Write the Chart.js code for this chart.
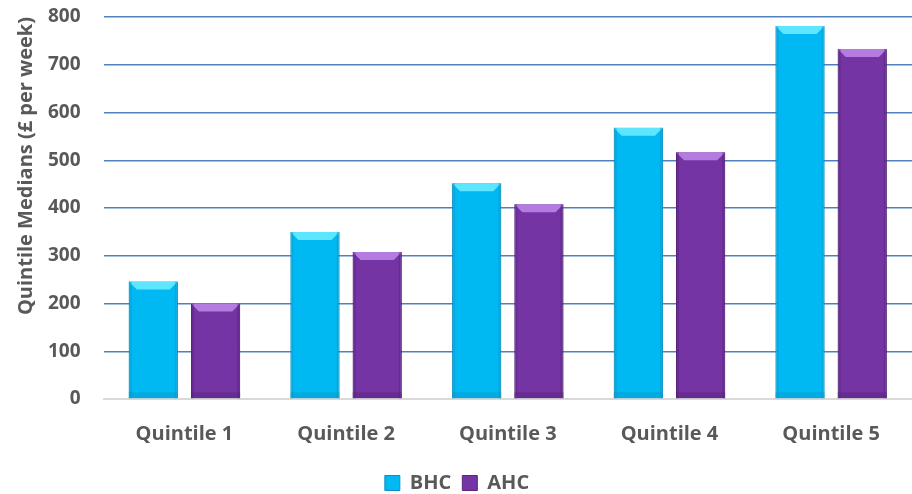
<!DOCTYPE html>
<html>
<head>
<meta charset="utf-8">
<script src="https://cdn.jsdelivr.net/npm/chart.js@4/dist/chart.umd.min.js"></script>
<style>
  html, body { margin: 0; padding: 0; background: #fff; }
  #wrap { width: 912px; height: 494px; }
</style>
</head>
<body>
<div id="wrap"><canvas id="myChart"></canvas></div>
<script>
  // chart data
  const quintiles = ['Quintile 1', 'Quintile 2', 'Quintile 3', 'Quintile 4', 'Quintile 5'];
  const bhcValues = [246, 350, 452, 568, 781];
  const ahcValues = [200, 308, 408, 517, 733];
  const yTicks = [0, 100, 200, 300, 400, 500, 600, 700, 800];

  const grey = '#595959';
  const fontFam = '"Open Sans", Lato, sans-serif';

  // bevel look on the bars (light top, darker sides)
  const bevel = {
    id: 'bevel',
    afterDatasetsDraw(chart) {
      const c = chart.ctx;
      const shades = [['#5FE6FF', '#0590C4'], ['#B47BE0', '#4E1F72']];
      chart.data.datasets.forEach((ds, i) => {
        chart.getDatasetMeta(i).data.forEach(bar => {
          const l = bar.x - bar.width / 2, r = bar.x + bar.width / 2;
          const t = bar.y, b = bar.base, d = 8;
          c.save();
          c.fillStyle = shades[i][0];
          c.beginPath();
          c.moveTo(l, t); c.lineTo(r, t); c.lineTo(r - d, t + d); c.lineTo(l + d, t + d);
          c.closePath(); c.fill();
          c.globalAlpha = 0.35;
          c.fillStyle = shades[i][1];
          c.fillRect(l, t, 3, b - t);
          c.fillRect(r - 3, t, 3, b - t);
          c.fillRect(l, b - 6, r - l, 6);
          c.restore();
        });
      });
    }
  };

  const ctx = document.getElementById('myChart');
  new Chart(ctx, {
    type: 'bar',
    data: {
      labels: quintiles,
      datasets: [{
        label: 'BHC',
        data: bhcValues,
        backgroundColor: '#00B9F2',
        borderColor: '#0A8FC0',
        borderWidth: 1,
        categoryPercentage: 0.77,
        barPercentage: 0.79
      }, {
        label: 'AHC',
        data: ahcValues,
        backgroundColor: '#7534A3',
        borderColor: '#5A2580',
        borderWidth: 1,
        categoryPercentage: 0.77,
        barPercentage: 0.79
      }]
    },
    options: {
      responsive: true,
      maintainAspectRatio: false,
      animation: false,
      layout: { padding: { left: 2, right: 0, top: 17, bottom: -9 } },
      plugins: {
        legend: {
          position: 'bottom',
          labels: {
            color: grey,
            boxWidth: 15,
            boxHeight: 15,
            padding: 11,
            font: { family: fontFam, size: 20, weight: 'bold' }
          }
        },
        tooltip: { enabled: false }
      },
      scales: {
        x: {
          grid: { display: false, drawTicks: false },
          border: { display: true, color: '#D9D9D9', width: 2 },
          ticks: {
            color: grey,
            padding: 23,
            font: { family: fontFam, size: 20, weight: 'bold' }
          },
          afterFit: (scale) => { scale.height -= 7; }
        },
        y: {
          min: 0,
          max: 800,
          afterBuildTicks: (axis) => { axis.ticks = yTicks.map(v => ({ value: v })); },
          grid: { color: '#4F81BD', lineWidth: 1.5, drawTicks: true, tickLength: 23, tickColor: 'rgba(0,0,0,0)' },
          border: { display: false },
          ticks: {
            color: grey,
            padding: 0,
            font: { family: fontFam, size: 19, weight: 'bold' }
          },
          title: {
            display: true,
            text: 'Quintile Medians (£ per week)',
            color: grey,
            align: 'end',
            padding: { top: 12, bottom: 10 },
            font: { family: fontFam, size: 20, weight: 'bold' }
          }
        }
      }
    },
    plugins: [bevel]
  });
</script>
</body>
</html>
